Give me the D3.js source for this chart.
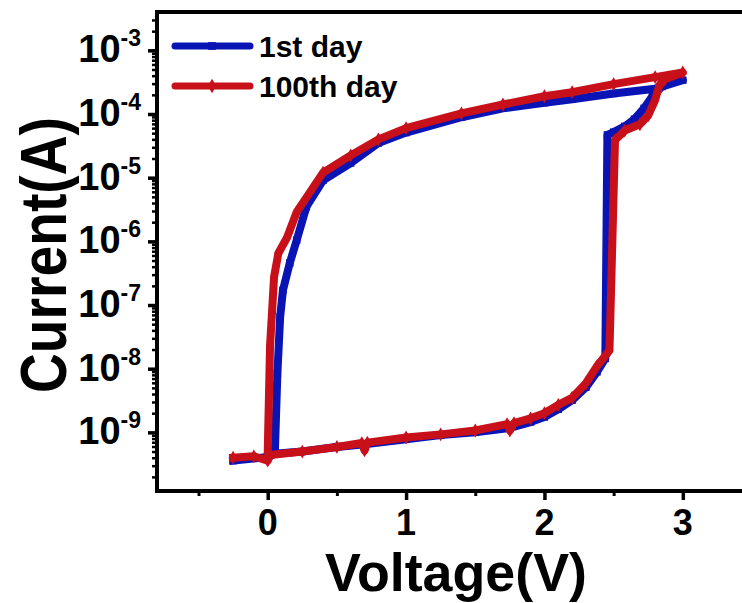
<!DOCTYPE html>
<html>
<head>
<meta charset="utf-8">
<script src="https://cdn.jsdelivr.net/npm/d3@7"></script>
<style>
  html, body { margin: 0; padding: 0; background: #fff; }
  svg { display: block; }
  text { font-family: "Liberation Sans", Arial, sans-serif; font-weight: bold; fill: #000; }
</style>
</head>
<body>
<svg id="chart" width="742" height="603"></svg>
<script>
// ---- data ----
const seriesNames = ["1st day", "100th day"];
const seriesColors = ["#0a14b4", "#c8101a"];

const voltage1st = [-0.25, 0.0, 0.05, 0.25, 0.5, 0.7, 1.0, 1.25, 1.5, 1.75, 1.9, 2.0, 2.1, 2.2, 2.3, 2.38, 2.44,
  2.455, 2.5, 2.58, 2.65, 2.72, 2.78, 2.85, 3.0,
  2.8, 2.5, 2.2, 2.0, 1.7, 1.4, 1.0, 0.8, 0.6, 0.4, 0.28, 0.21, 0.16, 0.11, 0.09, 0.07, 0.053];
const current1st = [3.6e-10, 4.1e-10, 4.6e-10, 5.0e-10, 5.9e-10, 6.5e-10, 7.8e-10, 9.1e-10, 1.0e-9, 1.17e-9, 1.45e-9, 1.74e-9, 2.3e-9, 3.2e-9, 5.1e-9, 8.9e-9, 1.45e-8,
  4.7e-5, 5.2e-5, 6.4e-5, 8.3e-5, 1.23e-4, 1.9e-4, 2.7e-4, 3.4e-4,
  2.5e-4, 2.1e-4, 1.7e-4, 1.5e-4, 1.23e-4, 8.9e-5, 5.1e-5, 3.5e-5, 1.7e-5, 9.1e-6, 3.5e-6, 1.05e-6, 4.6e-7, 1.7e-7, 6.5e-8, 8.5e-9, 5.9e-10];

const voltage100th = [-0.25, -0.1, 0.0, 0.02, 0.25, 0.5, 0.68, 0.7, 0.72, 1.0, 1.25, 1.5, 1.73, 1.75, 1.78, 1.9, 2.0, 2.1, 2.2, 2.3, 2.38, 2.44, 2.47,
  2.51, 2.58, 2.69, 2.75, 2.8, 2.83, 2.87, 3.0,
  2.8, 2.5, 2.2, 2.0, 1.7, 1.4, 1.0, 0.8, 0.6, 0.4, 0.33, 0.21, 0.14, 0.077, 0.046, 0.017, 0.0];
const current100th = [4.0e-10, 4.2e-10, 3.6e-10, 4.4e-10, 5.0e-10, 5.9e-10, 6.8e-10, 5.2e-10, 6.9e-10, 8.3e-10, 9.3e-10, 1.07e-9, 1.35e-9, 1.07e-9, 1.4e-9, 1.66e-9, 2.0e-9, 2.7e-9, 3.5e-9, 5.9e-9, 1.1e-8, 1.6e-8, 1.95e-8,
  3.9e-5, 5.5e-5, 6.9e-5, 9.5e-5, 1.66e-4, 2.8e-4, 3.5e-4, 4.5e-4,
  3.8e-4, 2.95e-4, 2.2e-4, 1.9e-4, 1.41e-4, 1.02e-4, 6.0e-5, 4.0e-5, 2.24e-5, 1.2e-5, 7.1e-6, 2.9e-6, 1.15e-6, 6.5e-7, 2.75e-7, 2.3e-8, 4.7e-10];

const xTicks = [0, 1, 2, 3];
const xMinorTicks = [-0.5, 0.5, 1.5, 2.5, 3.5];
const yTickExponents = [-3, -4, -5, -6, -7, -8, -9];
const xDomain = [-0.8, 3.5];
const yDomain = [1.2e-10, 4.0e-3];

// ---- layout ----
const svg = d3.select("#chart");
const mLeft = 157, mTop = 12, mRight = 752, mBottom = 491;

const x = d3.scaleLinear().domain(xDomain).range([mLeft, mRight]);
const y = d3.scaleLog().domain(yDomain).range([mBottom, mTop]);

// minor y ticks (2..9 per decade)
const yMinor = [];
for (let e = -10; e <= -3; e++) {
  for (let m = 2; m <= 9; m++) {
    const v = m * Math.pow(10, e);
    if (v > yDomain[0] && v < yDomain[1]) yMinor.push(v);
  }
}

const gAxes = svg.append("g");

// Y axis
const yAxis = d3.axisLeft(y).tickValues(yTickExponents.map(e => Math.pow(10, e)))
  .tickSize(9).tickFormat("");
gAxes.append("g").attr("transform", `translate(${mLeft},0)`).call(yAxis)
  .call(g => g.select(".domain").remove())
  .call(g => g.selectAll(".tick line").attr("stroke", "#000").attr("stroke-width", 3.5));
const yAxisMinor = d3.axisLeft(y).tickValues(yMinor).tickSize(5).tickFormat("");
gAxes.append("g").attr("transform", `translate(${mLeft},0)`).call(yAxisMinor)
  .call(g => g.select(".domain").remove())
  .call(g => g.selectAll(".tick line").attr("stroke", "#000").attr("stroke-width", 2.5));

// Y tick labels with superscripts
const yLab = gAxes.append("g");
yTickExponents.forEach(e => {
  const t = yLab.append("text")
    .attr("x", 141).attr("y", y(Math.pow(10, e)) + 12)
    .attr("text-anchor", "end");
  t.append("tspan").attr("font-size", 38).text("10");
  t.append("tspan").attr("font-size", 23).attr("dy", -16).text(String(e));
});

// X axis
const xAxis = d3.axisBottom(x).tickValues(xTicks).tickSize(9).tickFormat("");
gAxes.append("g").attr("transform", `translate(0,${mBottom})`).call(xAxis)
  .call(g => g.select(".domain").remove())
  .call(g => g.selectAll(".tick line").attr("stroke", "#000").attr("stroke-width", 3.5));
const xAxisMinor = d3.axisBottom(x).tickValues(xMinorTicks).tickSize(5).tickFormat("");
gAxes.append("g").attr("transform", `translate(0,${mBottom})`).call(xAxisMinor)
  .call(g => g.select(".domain").remove())
  .call(g => g.selectAll(".tick line").attr("stroke", "#000").attr("stroke-width", 3));
gAxes.append("g").selectAll("text").data(xTicks).join("text")
  .attr("x", d => x(d)).attr("y", 535)
  .attr("text-anchor", "middle").attr("font-size", 36)
  .text(d => d);

// frame
svg.append("rect").attr("x", mLeft).attr("y", mTop)
  .attr("width", mRight - mLeft).attr("height", mBottom - mTop)
  .attr("fill", "none").attr("stroke", "#000").attr("stroke-width", 4);

// axis titles
svg.append("text").attr("x", 456).attr("y", 591).attr("text-anchor", "middle")
  .attr("font-size", 53).attr("textLength", 262).attr("lengthAdjust", "spacingAndGlyphs")
  .text("Voltage(V)");
svg.append("text").attr("transform", "translate(66,255) rotate(-90)").attr("text-anchor", "middle")
  .attr("font-size", 64).attr("textLength", 276).attr("lengthAdjust", "spacingAndGlyphs")
  .text("Current(A)");

// ---- curves ----
const series = [
  { name: seriesNames[0], color: seriesColors[0], v: voltage1st, i: current1st, symbol: d3.symbolSquare },
  { name: seriesNames[1], color: seriesColors[1], v: voltage100th, i: current100th, symbol: d3.symbolDiamond }
];
const line = d3.line().x(d => x(d[0])).y(d => y(d[1]));

const gPlot = svg.append("g");
series.forEach(s => {
  const pts = s.v.map((v, k) => [v, s.i[k]]);
  gPlot.append("path").attr("d", line(pts))
    .attr("fill", "none").attr("stroke", s.color).attr("stroke-width", 8)
    .attr("stroke-linejoin", "round").attr("stroke-linecap", "square");
  gPlot.append("g").selectAll("path").data(pts).join("path")
    .attr("transform", d => `translate(${x(d[0])},${y(d[1])})`)
    .attr("d", d3.symbol().type(s.symbol).size(55))
    .attr("fill", s.color);
});

// ---- legend ----
const legend = svg.append("g");
series.forEach((s, k) => {
  const ly = 46 + k * 40;
  legend.append("line").attr("x1", 175).attr("x2", 250).attr("y1", ly).attr("y2", ly)
    .attr("stroke", s.color).attr("stroke-width", 7).attr("stroke-linecap", "round");
  legend.append("path").attr("transform", `translate(212,${ly})`)
    .attr("d", d3.symbol().type(s.symbol).size(60)).attr("fill", s.color);
  legend.append("text").attr("x", 259).attr("y", ly + 11).attr("font-size", 30).text(s.name);
});
</script>
</body>
</html>
